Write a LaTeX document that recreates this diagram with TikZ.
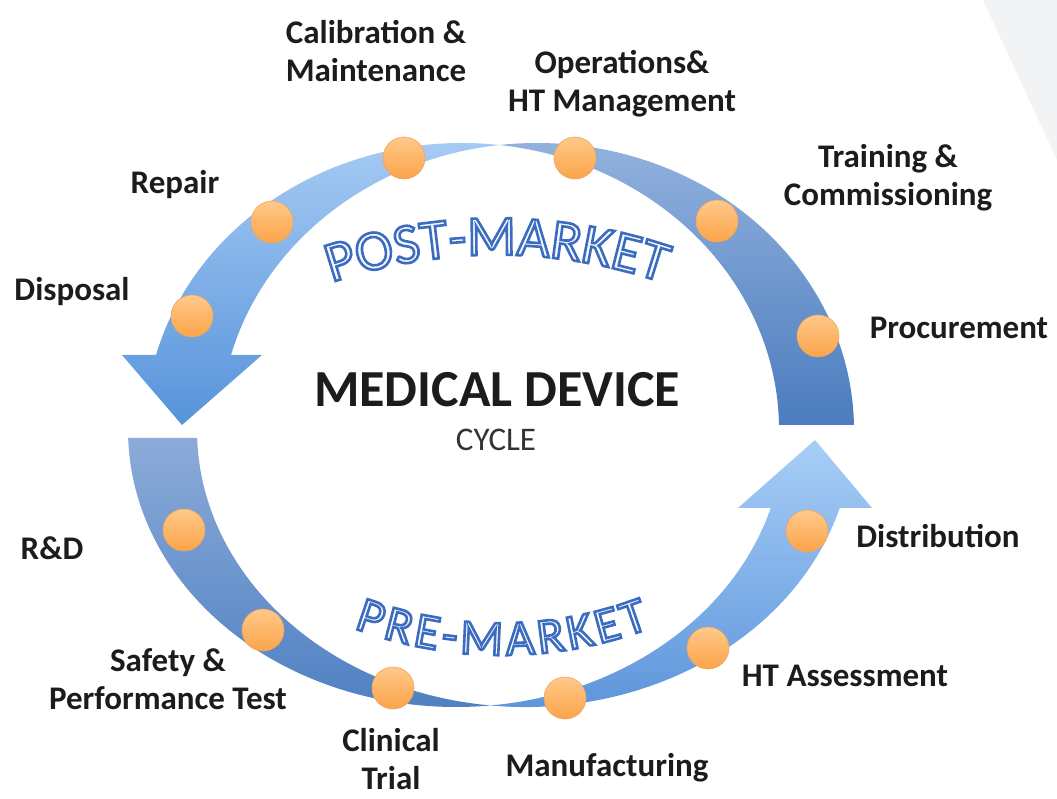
\documentclass[tikz,border=0pt]{standalone}
\usepackage{fontspec}
\setmainfont{Carlito}
\usepackage{tikz}
\usetikzlibrary{decorations.text}

\definecolor{cornergray}{HTML}{F2F3F5}
\definecolor{postfronttop}{HTML}{A9CDF5}
\definecolor{postfrontbot}{HTML}{5592DA}
\definecolor{postbacktop}{HTML}{93B2DE}
\definecolor{postbackbot}{HTML}{4A7BBE}
\definecolor{prebacktop}{HTML}{8DACDA}
\definecolor{prebackbot}{HTML}{4F80C2}
\definecolor{prefronttop}{HTML}{ABD0F8}
\definecolor{prefrontbot}{HTML}{5A93DA}
\definecolor{dottop}{HTML}{FFC98A}
\definecolor{dotbot}{HTML}{FBA449}
\definecolor{dotrim}{HTML}{F2A35E}
\definecolor{wordfill}{HTML}{F6F9FD}
\definecolor{inkblack}{HTML}{1C1C1C}

% hollow letters: white fill, blue stroke (text render mode 2)
\newcommand{\hollow}{\special{pdf:literal direct 0.235 0.424 0.753 RG 2.6 w 2 Tr}}
\newcommand{\postfont}{\fontsize{57}{57}\selectfont\color{wordfill}\hollow}
\newcommand{\prefont}{\fontsize{50}{50}\selectfont\color{wordfill}\hollow}
\newcommand{\pregap}{\kern4pt}

\tikzset{
  dot/.style={circle,minimum size=42pt,inner sep=0pt,draw=dotrim,line width=0.6pt,
    top color=dottop,bottom color=dotbot},
  lbl/.style={font=\bfseries\fontsize{33}{38}\selectfont,text=inkblack,align=center},
  arctext/.style={decorate,decoration={text along path,text align=center,text={#1}}},
}

\begin{document}
\begin{tikzpicture}[x=1pt,y=1pt]
\useasboundingbox (0,0) rectangle (1057,798);
\path[fill=cornergray] (983,798) -- (1057,798) -- (1057,638) -- cycle;
% post-market arrow, back half:
\path[top color=postbacktop,bottom color=postbackbot] (537,368) ++(1:317 and 287)
  arc[start angle=1,end angle=96.79,x radius=317,y radius=287]
  arc[start angle=83.21,end angle=1,x radius=317,y radius=287] -- cycle;
% post-market arrow, front half and head:
\path[top color=postfronttop,bottom color=postfrontbot] (462,368) ++(83.21:317 and 287)
  arc[start angle=83.21,end angle=164.85,x radius=317,y radius=287]
  -- (122,443) -- (182,373) -- (262,443) -- (231.02,443)
  arc[start angle=164.85,end angle=96.79,x radius=317,y radius=287] -- cycle;
% pre-market arrow, back half:
\path[top color=prebacktop,bottom color=prebackbot] (456,368) ++(181.65:328 and 277)
  arc[start angle=181.65,end angle=276.04,x radius=328,y radius=277]
  arc[start angle=263.96,end angle=181.65,x radius=328,y radius=277] -- cycle;
% pre-market arrow, front half and head:
\path[top color=prefronttop,bottom color=prefrontbot] (456,368) ++(276.04:328 and 277)
  arc[start angle=276.04,end angle=343.65,x radius=328,y radius=277]
  -- (738,290) -- (815,358) -- (872,290) -- (839.7,290)
  arc[start angle=343.65,end angle=263.96,x radius=328,y radius=277] -- cycle;
% stage dots:
\node[dot] (disposal) at (192,482) {};
\node[dot] (repair) at (272,576) {};
\node[dot] (calib) at (404,640) {};
\node[dot] (ops) at (575,640) {};
\node[dot] (training) at (717,577) {};
\node[dot] (procure) at (818,462) {};
\node[dot] (distrib) at (807,267) {};
\node[dot] (htassess) at (708,150) {};
\node[dot] (manuf) at (565,100) {};
\node[dot] (clinical) at (393,110) {};
\node[dot] (safety) at (263,168) {};
\node[dot] (rnd) at (184,268) {};
% stage labels:
\node[lbl] (calib-lbl) at (376,747) {Calibration \&\\Maintenance};
\node[lbl] (ops-lbl) at (622,714) {Operations\&\\HT Management};
\node[lbl] (training-lbl) at (888,620) {Training \&\\Commissioning};
\node[lbl] (procure-lbl) at (959,470) {Procurement};
\node[lbl] (distrib-lbl) at (938,262) {Distribution};
\node[lbl] (htassess-lbl) at (845,122) {HT Assessment};
\node[lbl] (manuf-lbl) at (607,30) {Manufacturing};
\node[lbl] (clinical-lbl) at (391,39) {Clinical\\Trial};
\node[lbl] (safety-lbl) at (168,119) {Safety \&\\Performance Test};
\node[lbl] (rnd-lbl) at (52,250) {R\&D};
\node[lbl] (disposal-lbl) at (72,506) {Disposal};
\node[lbl] (repair-lbl) at (175,613) {Repair};
% centre title:
\node[font=\bfseries\fontsize{52}{52}\selectfont,text=inkblack] (title) at (497,408) {MEDICAL DEVICE};
\node[font=\fontsize{33}{33}\selectfont,text=inkblack!90] (subtitle) at (496,358) {CYCLE};
% outlined arc words:
\path[arctext={|\postfont|POST-MARKET}]
  (497,31) ++(113:512) arc[start angle=113,end angle=67,radius=512];
\path[arctext={|\prefont|{P\pregap}{R\pregap}{E\pregap}{-\pregap}{M\pregap}{A\pregap}{R\pregap}{K\pregap}{E\pregap}T}]
  (502,564) ++(244:421) arc[start angle=244,end angle=296,radius=421];
\end{tikzpicture}
\end{document}
